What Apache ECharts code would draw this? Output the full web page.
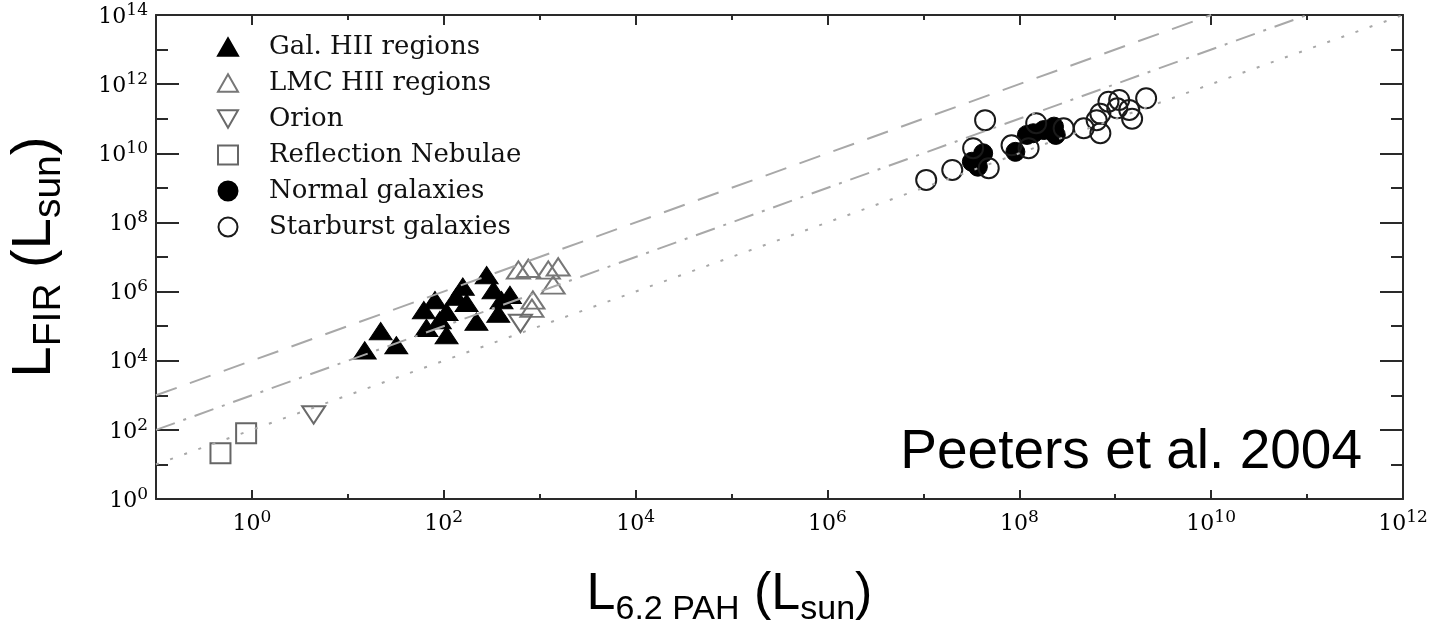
<!DOCTYPE html>
<html>
<head>
<meta charset="utf-8">
<title>L_FIR vs L_6.2 PAH</title>
<script src="https://cdn.jsdelivr.net/npm/echarts@6/dist/echarts.min.js"></script>
<style>
  html, body { margin: 0; padding: 0; background: #fff; }
  #chart { width: 1438px; height: 627px; }
</style>
</head>
<body>
<div id="chart"></div>
<script>
// Decade exponents used for tick marks and labels
const xMajorExp = [0, 2, 4, 6, 8, 10, 12];
const xMinorExp = [1, 3, 5, 7, 9, 11];
const yMajorExp = [0, 2, 4, 6, 8, 10, 12, 14];
const yMinorExp = [1, 3, 5, 7, 9, 11, 13];

// [L_6.2 PAH, L_FIR] in solar luminosities
const galHII = [
  [15, 2.0e4], [22, 7.2e4], [32, 2.8e4], [62, 2.9e5], [81, 5.7e5], [66, 8.9e4],
  [107, 2.6e5], [107, 5.5e4], [158, 1.4e6], [173, 4.7e5], [219, 1.35e5],
  [280, 3.0e6], [330, 1.1e6], [400, 5.7e5], [370, 2.3e5], [135, 7.1e5],
  [91, 1.5e5], [490, 8.0e5]
];
const lmcHII = [
  [600, 4.2e6], [760, 4.7e6], [1230, 4.2e6], [1560, 5.2e6], [1380, 1.55e6],
  [850, 5.7e5], [830, 3.3e5]
];
const orion = [[4.4, 270], [630, 1.2e5]];
const reflection = [[0.47, 21], [0.87, 80]];
const normalGal = [
  [3.2e7, 5.7e9], [4.2e7, 1.0e10], [3.7e7, 4.1e9], [9.1e7, 1.1e10], [1.4e8, 3.8e10],
  [1.8e8, 4.7e10], [2.3e8, 5.9e10], [2.4e8, 3.4e10], [1.2e8, 3.4e10]
];
const starburst = [
  [1.07e7, 1.7e9], [2.0e7, 3.3e9], [3.3e7, 1.4e10], [4.4e7, 9.1e10], [4.8e7, 3.7e9],
  [8.3e7, 1.7e10], [1.25e8, 1.4e10], [1.5e8, 7.4e10], [2.9e8, 5.3e10], [4.7e8, 5.3e10],
  [7.0e8, 3.8e10], [7.0e8, 1.4e11], [8.5e8, 3.1e11], [1.05e9, 2.0e11], [1.1e9, 3.5e11],
  [1.4e9, 1.8e11], [1.5e9, 1.0e11], [2.1e9, 3.9e11], [6.4e8, 9.1e10]
];

// Constant-ratio reference lines (end points)
const lineRatio1e4 = [[0.1, 1e3], [1e10, 1e14]];
const lineRatio1e3 = [[0.1, 1e2], [1e11, 1e14]];
const lineRatio1e2 = [[0.1, 1e1], [1e12, 1e14]];

const pow10 = e => Math.pow(10, e);
const powLabel = v => '{b|10}{s|' + Math.round(Math.log10(v)) + '}';

const AXIS_COLOR = '#2a2a2a';
const LINE_GRAY = '#a8a8a8';
const SERIF = '"DejaVu Serif", "Liberation Serif", serif';
const SANS = '"Liberation Sans", Arial, sans-serif';

const tickRich = {
  b: { fontFamily: SERIF, fontSize: 22, lineHeight: 26, color: '#000', verticalAlign: 'bottom' },
  s: { fontFamily: SERIF, fontSize: 17, lineHeight: 18, color: '#000', verticalAlign: 'top' }
};
const xTitleRich = {
  m: { fontFamily: SANS, fontSize: 52, lineHeight: 64, color: '#000' },
  sub: { fontFamily: SANS, fontSize: 34, lineHeight: 28, color: '#000', verticalAlign: 'bottom' }
};
const yTitleRich = {
  m: { fontFamily: SANS, fontSize: 56, lineHeight: 68, color: '#000' },
  sub: { fontFamily: SANS, fontSize: 39, lineHeight: 30, color: '#000', verticalAlign: 'bottom' }
};

const UP_TRI = 'path://M10,0L20,17.3L0,17.3Z';
const DOWN_TRI = 'path://M0,0L20,0L10,17.3Z';

function logAxis(extra) {
  return Object.assign({
    type: 'log',
    logBase: 10,
    gridIndex: 0,
    splitLine: { show: false },
    axisLine: { show: false },
    axisLabel: { show: false },
    axisTick: { show: false }
  }, extra);
}

function tickSet(exps, len) {
  return {
    show: true,
    inside: true,
    length: len,
    customValues: exps.map(pow10),
    lineStyle: { color: AXIS_COLOR, width: 2 }
  };
}

function tickLabels(exps, margin) {
  return {
    show: true, margin: margin, customValues: exps.map(pow10),
    fontFamily: SERIF, fontSize: 22, color: '#000',
    formatter: powLabel, rich: tickRich
  };
}

const xRange = { min: 0.1, max: 1e12 };
const yRange = { min: 1, max: 1e14 };

const option = {
  animation: false,
  backgroundColor: '#fff',
  grid: {
    left: 156, right: 35, top: 15, bottom: 128,
    containLabel: false, outerBoundsMode: 'none'
  },
  xAxis: [
    logAxis(Object.assign({
      position: 'bottom',
      axisLine: { show: true, lineStyle: { color: AXIS_COLOR, width: 2 } },
      axisTick: tickSet(xMajorExp, 9),
      axisLabel: tickLabels(xMajorExp, 10),
      name: '{m|L}{sub|6.2 PAH}{m| (L}{sub|sun}{m|)}',
      nameLocation: 'middle',
      nameGap: 64,
      nameTextStyle: { rich: xTitleRich, padding: [0, 100, 0, 0] }
    }, xRange)),
    logAxis(Object.assign({ position: 'bottom', axisTick: tickSet(xMinorExp, 5) }, xRange)),
    logAxis(Object.assign({
      position: 'top',
      axisLine: { show: true, lineStyle: { color: AXIS_COLOR, width: 2 } },
      axisTick: tickSet(xMajorExp, 10)
    }, xRange)),
    logAxis(Object.assign({ position: 'top', axisTick: tickSet(xMinorExp, 5) }, xRange))
  ],
  yAxis: [
    logAxis(Object.assign({
      position: 'left',
      axisLine: { show: true, lineStyle: { color: AXIS_COLOR, width: 2 } },
      axisTick: tickSet(yMajorExp, 23),
      axisLabel: tickLabels(yMajorExp, 8),
      name: '{m|L}{sub|FIR}{m| (L}{sub|sun}{m|)}',
      nameLocation: 'middle',
      nameRotate: 90,
      nameGap: 87,
      nameTextStyle: { rich: yTitleRich }
    }, yRange)),
    logAxis(Object.assign({ position: 'left', axisTick: tickSet(yMinorExp, 12) }, yRange)),
    logAxis(Object.assign({
      position: 'right',
      axisLine: { show: true, lineStyle: { color: AXIS_COLOR, width: 2 } },
      axisTick: tickSet(yMajorExp, 23)
    }, yRange)),
    logAxis(Object.assign({ position: 'right', axisTick: tickSet(yMinorExp, 12) }, yRange))
  ],
  legend: {
    orient: 'vertical',
    left: 212,
    top: 29,
    itemWidth: 20,
    itemHeight: 19,
    itemGap: 10,
    selectedMode: false,
    data: ['Gal. HII regions', 'LMC HII regions', 'Orion', 'Reflection Nebulae',
           'Normal galaxies', 'Starburst galaxies'],
    textStyle: {
      fontFamily: SERIF, fontSize: 26, lineHeight: 26, color: '#111',
      padding: [0, 0, 0, 26]
    }
  },
  graphic: [{
    type: 'text',
    right: 76,
    top: 425,
    style: { text: 'Peeters et al. 2004', font: '55px "Liberation Sans", Arial, sans-serif', fill: '#000' }
  }],
  series: [
    {
      name: 'Gal. HII regions', type: 'scatter', data: galHII,
      symbol: UP_TRI, symbolSize: [23, 20], symbolKeepAspect: true,
      itemStyle: { color: '#000', borderColor: '#000', borderWidth: 1, opacity: 1 }
    },
    {
      name: 'LMC HII regions', type: 'scatter', data: lmcHII,
      symbol: UP_TRI, symbolSize: [23, 20], symbolKeepAspect: true,
      itemStyle: { color: 'rgba(255,255,255,0)', borderColor: '#777', borderWidth: 2, opacity: 1 }
    },
    {
      name: 'Orion', type: 'scatter', data: orion,
      symbol: DOWN_TRI, symbolSize: [23, 20], symbolKeepAspect: true,
      itemStyle: { color: 'rgba(255,255,255,0)', borderColor: '#6a6a6a', borderWidth: 2, opacity: 1 }
    },
    {
      name: 'Reflection Nebulae', type: 'scatter', data: reflection,
      symbol: 'rect', symbolSize: 20,
      itemStyle: { color: 'rgba(255,255,255,0)', borderColor: '#666', borderWidth: 2, opacity: 1 }
    },
    {
      name: 'Normal galaxies', type: 'scatter', data: normalGal,
      symbol: 'circle', symbolSize: 19,
      itemStyle: { color: '#000', borderColor: '#000', borderWidth: 1, opacity: 1 }
    },
    {
      name: 'Starburst galaxies', type: 'scatter', data: starburst,
      symbol: 'circle', symbolSize: 20,
      itemStyle: { color: 'rgba(255,255,255,0)', borderColor: '#1a1a1a', borderWidth: 2, opacity: 1 }
    },
    {
      name: 'ratio 1e4', type: 'line', data: lineRatio1e4, showSymbol: false, silent: true, z: 3,
      lineStyle: { color: LINE_GRAY, width: 2, type: [22, 14] }
    },
    {
      name: 'ratio 1e3', type: 'line', data: lineRatio1e3, showSymbol: false, silent: true, z: 3,
      lineStyle: { color: LINE_GRAY, width: 2, type: [20, 9, 3, 9] }
    },
    {
      name: 'ratio 1e2', type: 'line', data: lineRatio1e2, showSymbol: false, silent: true, z: 3,
      lineStyle: { color: LINE_GRAY, width: 2, type: [3, 12] }
    }
  ]
};

const chart = echarts.init(document.getElementById('chart'), null, { renderer: 'canvas' });
chart.setOption(option);
</script>
</body>
</html>
